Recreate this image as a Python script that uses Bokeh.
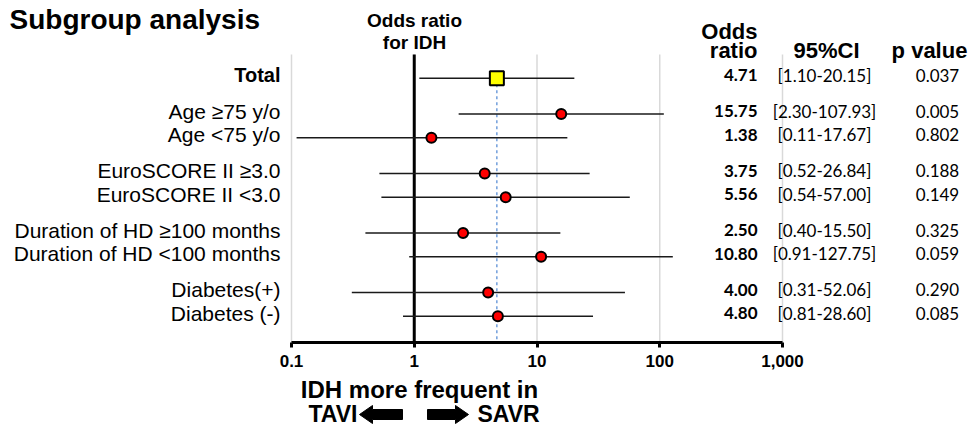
from bokeh.plotting import figure
from bokeh.layouts import column
from bokeh.models import Range1d, FixedTicker, ColumnDataSource
from bokeh.core.properties import value
from bokeh.embed import file_html
from bokeh.resources import INLINE

# ---------------- data ----------------
subgroups = ["Total", "Age \u226575 y/o", "Age <75 y/o", "EuroSCORE II \u22653.0", "EuroSCORE II <3.0",
             "Duration of HD \u2265100 months", "Duration of HD <100 months", "Diabetes(+)", "Diabetes (-)"]
group_id = [0, 1, 1, 2, 2, 3, 3, 4, 4]
odds_ratio = [4.71, 15.75, 1.38, 3.75, 5.56, 2.50, 10.80, 4.00, 4.80]
ci_low = [1.10, 2.30, 0.11, 0.52, 0.54, 0.40, 0.91, 0.31, 0.81]
ci_high = [20.15, 107.93, 17.67, 26.84, 57.00, 15.50, 127.75, 52.06, 28.60]
p_values = ["0.037", "0.005", "0.802", "0.188", "0.149", "0.325", "0.059", "0.290", "0.085"]
x_ticks = [0.1, 1, 10, 100, 1000]
x_tick_labels = ["0.1", "1", "10", "100", "1,000"]

rows = []
pos = 0.0
for i, g in enumerate(group_id):
    if i > 0:
        pos += 1.5 if g != group_id[i - 1] else 1.0
    rows.append(pos)

# ---------------- layout (page pixels) ----------------
W = 976
HM, HB = 372, 54          # main figure / bottom strip heights
FX0, FX1, FY0, FY1 = 291, 782, 54, 342   # data area (0.1..1000, header top..axis)
Y_TOP, Y_BOT = -1.0, 11.1
XMIN, XMAX = 0.1, 1000
PXU = (FY1 - FY0) / (Y_BOT - Y_TOP)      # pixels per row unit
TXT_UP = 3 / PXU                          # texts sit slightly above their whisker

def dx(px):
    return 10 ** (-1 + 4 * (px - FX0) / (FX1 - FX0))

def dy(py):
    return Y_TOP + (py - FY0) / PXU

ARIAL = value("Liberation Sans")
CALIBRI = value("Lato")

p = figure(width=W, height=HM, x_axis_type="log", output_backend="svg", toolbar_location=None,
           x_range=Range1d(dx(0), dx(W)), y_range=Range1d(Y_BOT, dy(0)), y_axis_location=None,
           min_border_left=0, min_border_right=0, min_border_top=0, min_border_bottom=HM - FY1)
p.outline_line_color = None
p.background_fill_color = "white"
p.border_fill_color = "white"
p.grid.grid_line_color = None

ax = p.xaxis[0]
ax.ticker = FixedTicker(ticks=x_ticks)
ax.bounds = (XMIN, XMAX)
ax.major_label_overrides = {t: l for t, l in zip(x_ticks, x_tick_labels)}
ax.axis_line_width = 3
ax.major_tick_line_width = 3
ax.major_tick_in = 0
ax.major_tick_out = 5
ax.minor_tick_line_color = None
ax.major_label_standoff = 7
ax.major_label_text_font = "Liberation Sans"
ax.major_label_text_font_style = "bold"
ax.major_label_text_font_size = "17px"
ax.major_label_text_color = "black"

# vertical grid lines and the OR = 1 reference line
p.segment(x0=x_ticks, y0=[Y_TOP] * len(x_ticks), x1=x_ticks, y1=[Y_BOT] * len(x_ticks),
          line_color="#d9d9d9", line_width=1.5)
p.segment(x0=[1], y0=[Y_TOP], x1=[1], y1=[Y_BOT], line_color="black", line_width=3)

# dotted line at total odds ratio
p.segment(x0=[odds_ratio[0]], y0=[rows[0]], x1=[odds_ratio[0]], y1=[Y_BOT],
          line_color="#5b8fd6", line_width=1.3, line_dash="3 3")

ty = [r - TXT_UP for r in rows]
src = ColumnDataSource(dict(
    y=rows, ty=ty, lo=ci_low, hi=ci_high,
    or_txt=[f"{v:.2f}" for v in odds_ratio],
    ci_txt=[f"[{a:.2f}-{b:.2f}]" for a, b in zip(ci_low, ci_high)],
    p_txt=p_values,
    xr=[XMAX] * len(rows)))

p.segment(x0="lo", y0="y", x1="hi", y1="y", source=src, line_color="#1a1a1a", line_width=1.6)
p.scatter(x=odds_ratio[1:], y=rows[1:], size=10, marker="circle", fill_color="#ff0000",
          line_color="black", line_width=2)
p.scatter(x=odds_ratio[:1], y=rows[:1], size=14, marker="square", fill_color="#ffff00",
          line_color="black", line_width=2)

# row labels
p.text(x=[XMIN], y=ty[:1], text=subgroups[:1], x_offset=-11, text_font=ARIAL,
       text_font_size="20px", text_font_style="bold", text_align="right", text_baseline="middle",
       text_color="black")
p.text(x=[XMIN] * (len(rows) - 1), y=ty[1:], text=subgroups[1:], x_offset=-11, text_font=ARIAL,
       text_font_size="21px", text_align="right", text_baseline="middle", text_color="black")

# table columns
p.text(x="xr", y="ty", text="or_txt", source=src, x_offset=-25, text_font=CALIBRI,
       text_font_size="17px", text_font_style="bold", text_align="right", text_baseline="middle",
       text_color="black")
p.text(x="xr", y="ty", text="ci_txt", source=src, x_offset=42, text_font=CALIBRI,
       text_font_size="17px", text_align="center", text_baseline="middle", text_color="black")
p.text(x="xr", y="ty", text="p_txt", source=src, x_offset=155, text_font=CALIBRI,
       text_font_size="17px", text_align="center", text_baseline="middle", text_color="black")

# headers (vertically centred on the given pixel row)
def head(fig, x, y, text, size, align="left"):
    fig.text(x=[x], y=[y], text=[text], text_font=ARIAL, text_font_size=f"{size}px",
             text_font_style="bold", text_align=align, text_baseline="middle",
             text_color="black")

head(p, dx(9), dy(19), "Subgroup analysis", 28)
head(p, dx(414), dy(20), "Odds ratio", 19, align="center")
head(p, dx(414), dy(42), "for IDH", 19, align="center")
head(p, dx(757), dy(31), "Odds", 22, align="right")
head(p, dx(757), dy(50), "ratio", 22, align="right")
head(p, dx(826), dy(50), "95%CI", 22, align="center")
head(p, dx(929), dy(50), "p value", 22, align="center")

# ---------------- bottom strip (pixel coordinates) ----------------
b = figure(width=W, height=HB, output_backend="svg", toolbar_location=None,
           x_range=Range1d(0, W), y_range=Range1d(HM + HB, HM), x_axis_location=None,
           y_axis_location=None, min_border=0)
b.outline_line_color = None
b.grid.grid_line_color = None
b.background_fill_color = "white"
b.border_fill_color = "white"

head(b, 419, 389, "IDH more frequent in", 24, align="center")
head(b, 357, 413, "TAVI", 23, align="right")
head(b, 477, 413, "SAVR", 23, align="left")

def arrow_shape(x_tail, x_tip, yc):
    d = 1 if x_tip > x_tail else -1
    x_neck = x_tip - d * 13
    return ([x_tail, x_neck, x_neck, x_tip, x_neck, x_neck, x_tail],
            [yc - 5, yc - 5, yc - 9, yc, yc + 9, yc + 5, yc + 5])

axs, ays = arrow_shape(402, 359, 414)
bxs, bys = arrow_shape(427, 468, 414)
b.patches(xs=[axs, bxs], ys=[ays, bys], fill_color="black", line_color="black", line_width=1)

layout = column(p, b, spacing=0)
open("out.html", "w").write(file_html(layout, INLINE))
